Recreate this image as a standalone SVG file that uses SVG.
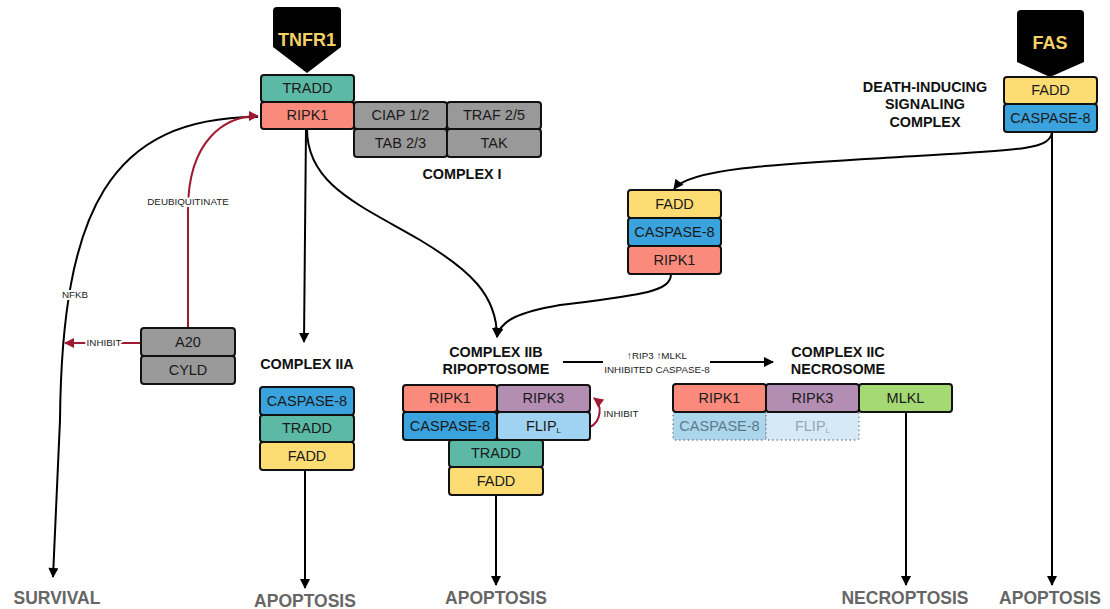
<svg xmlns="http://www.w3.org/2000/svg" width="1110" height="609" viewBox="0 0 1110 609">
<style>
text{font-family:"Liberation Sans",Arial,sans-serif}
.box{stroke:#111;stroke-width:2}
.bt{font-size:14.5px;fill:#1a1a1a;text-anchor:middle}
.hd{font-size:14.4px;font-weight:bold;fill:#111;text-anchor:middle}
.out{font-size:17.5px;font-weight:bold;fill:#666;text-anchor:middle}
.sm{font-size:9.8px;fill:#222;text-anchor:middle;stroke:#fff;stroke-width:4;paint-order:stroke;stroke-linejoin:round}
.sm2{font-size:9.8px;fill:#222;text-anchor:middle}
.rcpt{font-size:18px;font-weight:bold;fill:#f5d165;text-anchor:middle}
.c{fill:none;stroke:#000;stroke-width:2}
.r{fill:none;stroke:#9e1a32;stroke-width:2}
.tradd{fill:#5bb9a5}.ripk1{fill:#fa8a7b}.gray{fill:#999}.casp{fill:#3aa2dd}.fadd{fill:#fddc74}.ripk3{fill:#b38db2}.flip{fill:#9fd3f1}.mlkl{fill:#a5d974}
.fade{stroke:#777;stroke-width:1.3;stroke-dasharray:1.3 3}
</style>
<defs>
<marker id="ab" viewBox="0 0 10 10" refX="9" refY="5" markerWidth="11" markerHeight="10" markerUnits="userSpaceOnUse" orient="auto"><path d="M0,0 L10,5 L0,10 z" fill="#000"/></marker>
<marker id="ar" viewBox="0 0 10 10" refX="9" refY="5" markerWidth="11" markerHeight="10" markerUnits="userSpaceOnUse" orient="auto"><path d="M0,0 L10,5 L0,10 z" fill="#9e1a32"/></marker>
</defs>

<g id="connectors">
<path class="c" d="M258,117 C110,117 62,210 60,420 L53,577" marker-end="url(#ab)"/>
<path class="r" d="M188,328 L188,210 C188,140 225,116 258,116" marker-end="url(#ar)"/>
<path class="r" d="M141,343 L65,343" marker-end="url(#ar)"/>
<path class="c" d="M306,129 L304,342" marker-end="url(#ab)"/>
<path class="c" d="M307,129 C307,185 360,205 420,240 C470,270 497,295 497,337" marker-end="url(#ab)"/>
<path class="c" d="M671,274 C671,292 640,295 560,305 C520,312 500,320 497,337" marker-end="url(#ab)"/>
<path class="c" d="M1052,132 C1050,150 1020,150 900,157 C780,164 690,168 674,189" marker-end="url(#ab)"/>
<path class="c" d="M1052,132 L1052,585" marker-end="url(#ab)"/>
<path class="c" d="M305,470 L305,588" marker-end="url(#ab)"/>
<path class="c" d="M496,495 L496,585" marker-end="url(#ab)"/>
<path class="c" d="M906,412 L906,585" marker-end="url(#ab)"/>
<path class="c" d="M563,362 L603,362"/>
<path class="c" d="M710,362 L773,362" marker-end="url(#ab)"/>
<path class="r" d="M590,427 C601,422 603,405 594,398" marker-end="url(#ar)"/>
<text class="sm" x="188" y="205">DEUBIQUITINATE</text>
<text class="sm" x="75" y="298">NFKB</text>
<text class="sm" x="104" y="346">INHIBIT</text>
<text class="sm2" x="621" y="417">INHIBIT</text>
<text class="sm2" x="657" y="359">↑RIP3 ↑MLKL</text>
<text class="sm2" x="657" y="373">INHIBITED CASPASE-8</text>
</g>

<g id="tnfr1">
<path d="M277,7 H337 Q341,7 341,11 V47 L307,73 L273,47 V11 Q273,7 277,7 z" fill="#000"/>
<text class="rcpt" x="307" y="46">TNFR1</text>
</g>

<g id="complex-i">
<rect class="box tradd" x="261" y="75" width="93" height="27" rx="3"/>
<text class="bt" x="307.5" y="93">TRADD</text>
<rect class="box ripk1" x="261" y="102" width="93" height="27" rx="3"/>
<text class="bt" x="307.5" y="120">RIPK1</text>
<rect class="box gray" x="354" y="102" width="93" height="27" rx="3"/>
<text class="bt" x="400.5" y="120">CIAP 1/2</text>
<rect class="box gray" x="447" y="102" width="94" height="27" rx="3"/>
<text class="bt" x="494" y="120">TRAF 2/5</text>
<rect class="box gray" x="354" y="129" width="93" height="28" rx="3"/>
<text class="bt" x="400.5" y="148">TAB 2/3</text>
<rect class="box gray" x="447" y="129" width="94" height="28" rx="3"/>
<text class="bt" x="494" y="148">TAK</text>
<text class="hd" x="462" y="179">COMPLEX I</text>
</g>

<g id="a20-cyld">
<rect class="box gray" x="141" y="328" width="94" height="28" rx="3"/>
<text class="bt" x="188" y="347">A20</text>
<rect class="box gray" x="141" y="356" width="94" height="28" rx="3"/>
<text class="bt" x="188" y="375">CYLD</text>
</g>

<g id="complex-iia">
<text class="hd" x="307" y="369">COMPLEX IIA</text>
<rect class="box casp" x="260" y="387" width="94" height="28" rx="3"/>
<text class="bt" x="307" y="406">CASPASE-8</text>
<rect class="box tradd" x="260" y="415" width="94" height="27" rx="3"/>
<text class="bt" x="307" y="433">TRADD</text>
<rect class="box fadd" x="260" y="442" width="94" height="28" rx="3"/>
<text class="bt" x="307" y="461">FADD</text>
</g>

<g id="fadd-casp-ripk1">
<rect class="box fadd" x="628" y="190" width="93" height="28" rx="3"/>
<text class="bt" x="674.5" y="209">FADD</text>
<rect class="box casp" x="628" y="218" width="93" height="28" rx="3"/>
<text class="bt" x="674.5" y="237">CASPASE-8</text>
<rect class="box ripk1" x="628" y="246" width="93" height="28" rx="3"/>
<text class="bt" x="674.5" y="265">RIPK1</text>
</g>

<g id="complex-iib">
<text class="hd" x="496" y="357">COMPLEX IIB</text>
<text class="hd" x="496" y="374">RIPOPTOSOME</text>
<rect class="box ripk1" x="403" y="385" width="94" height="27" rx="3"/>
<text class="bt" x="450" y="403">RIPK1</text>
<rect class="box ripk3" x="497" y="385" width="93" height="27" rx="3"/>
<text class="bt" x="543.5" y="403">RIPK3</text>
<rect class="box casp" x="403" y="412" width="94" height="28" rx="3"/>
<text class="bt" x="450" y="431">CASPASE-8</text>
<rect class="box flip" x="497" y="412" width="93" height="28" rx="3"/>
<text class="bt" x="543.5" y="431">FLIP<tspan font-size="8" dy="2">L</tspan></text>
<rect class="box tradd" x="449" y="440" width="94" height="27" rx="3"/>
<text class="bt" x="496" y="458">TRADD</text>
<rect class="box fadd" x="449" y="467" width="94" height="28" rx="3"/>
<text class="bt" x="496" y="486">FADD</text>
</g>

<g id="complex-iic">
<text class="hd" x="838" y="357">COMPLEX IIC</text>
<text class="hd" x="838" y="374">NECROSOME</text>
<rect x="673" y="412" width="93" height="28" rx="2" fill="#abd6ec" class="fade"/>
<text class="bt" x="719.5" y="431" style="fill:#5d7a8a">CASPASE-8</text>
<rect x="766" y="412" width="93" height="28" rx="2" fill="#d5eaf6" class="fade"/>
<text class="bt" x="812.5" y="431" style="fill:#98a6ae">FLIP<tspan font-size="8" dy="2">L</tspan></text>
<rect class="box ripk1" x="673" y="384" width="93" height="28" rx="3"/>
<text class="bt" x="719.5" y="403">RIPK1</text>
<rect class="box ripk3" x="766" y="384" width="93" height="28" rx="3"/>
<text class="bt" x="812.5" y="403">RIPK3</text>
<rect class="box mlkl" x="859" y="384" width="93" height="28" rx="3"/>
<text class="bt" x="905.5" y="403">MLKL</text>
</g>

<g id="fas">
<path d="M1021,10 H1080 Q1084,10 1084,14 V62 L1050,77 L1017,62 V14 Q1017,10 1021,10 z" fill="#000"/>
<text class="rcpt" x="1050" y="49">FAS</text>
</g>

<g id="disc">
<text class="hd" x="925" y="92">DEATH-INDUCING</text>
<text class="hd" x="925" y="109">SIGNALING</text>
<text class="hd" x="925" y="127">COMPLEX</text>
<rect class="box fadd" x="1004" y="77" width="93" height="27" rx="3"/>
<text class="bt" x="1050.5" y="95">FADD</text>
<rect class="box casp" x="1004" y="104" width="93" height="28" rx="3"/>
<text class="bt" x="1050.5" y="123">CASPASE-8</text>
</g>

<g id="outcomes">
<text class="out" x="57" y="604">SURVIVAL</text>
<text class="out" x="305" y="607">APOPTOSIS</text>
<text class="out" x="496" y="604">APOPTOSIS</text>
<text class="out" x="905" y="604">NECROPTOSIS</text>
<text class="out" x="1050" y="604">APOPTOSIS</text>
</g>
</svg>
